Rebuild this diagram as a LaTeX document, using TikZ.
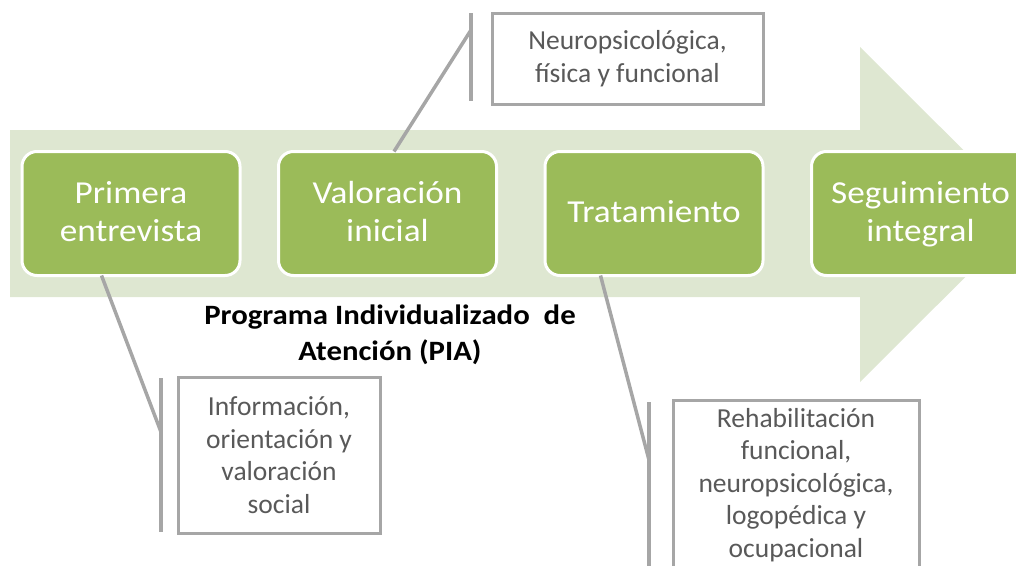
\documentclass[tikz,border=0pt]{standalone}
\usepackage{fontspec}
\setmainfont{Carlito}
\newfontfamily\wideFont[FakeStretch=1.1]{Carlito}
\usetikzlibrary{positioning}

\definecolor{bandGreen}{RGB}{222,231,209}
\definecolor{stepGreen}{RGB}{155,187,89}
\definecolor{lineGray}{RGB}{166,166,166}
\definecolor{textGray}{RGB}{89,89,89}
\newcommand{\stepStrut}{\rule[-10pt]{0pt}{38pt}}

\begin{document}
\begin{tikzpicture}
[x=1pt,y=-1pt,
  stepDecorate/.style={shape=rectangle,rounded corners=15pt,fill=stepGreen,draw=white,line width=3pt,
    minimum width=218pt,minimum height=124pt,align=center,text=white,
    font=\wideFont\fontsize{32}{38}\selectfont},%
  calloutDecorate/.style={shape=rectangle,draw=lineGray,line width=3pt,fill=white,align=center,
    text=textGray,inner sep=0pt,font=\fontsize{27.5}{32.5}\selectfont},%
  lineDecorate/.style={-,draw=lineGray,line width=3.5pt}]
\useasboundingbox (0,0) rectangle (1016,565);
\clip (0,0) rectangle (1016,565);
%% background arrow
\fill[bandGreen] (10,130) -- (860,130) -- (860,47) -- (1028,214.5) -- (860,382)
  -- (860,297) -- (10,297) -- cycle;
%% steps
\foreach \nodename/\x/\txt in {entrevista/131/{Primera\\entrevista},
    valoracion/387.5/{Valoración\\inicial}, tratamiento/654/{Tratamiento},
    seguimiento/920.5/{Seguimiento\\integral}} {
  \node (\nodename) at (\x,213.5) [stepDecorate] {\stepStrut\txt\stepStrut};
}
%% title
\node (pia) at (390,335) [align=center,font=\wideFont\fontsize{28}{36}\selectfont\bfseries]
  {Programa Individualizado\ \ de\\Atención (PIA)};
%% callouts
\node (info) at (279,455) [calloutDecorate,minimum width=202pt,minimum height=156pt] 
  {Información,\\orientación y\\valoración\\social};
\node (neuro) at (627.5,58.5) [calloutDecorate,minimum width=271pt,minimum height=91pt] 
  {Neuropsicológica,\\física y funcional};
\node (rehab) at (796,485) [calloutDecorate,minimum width=246pt,minimum height=170pt] 
  {Rehabilitación\\funcional,\\neuropsicológica,\\logopédica y\\ocupacional};
%% brackets
\coordinate (infoTop) at (161,378);
\coordinate (infoMid) at (161,432);
\coordinate (infoBot) at (161,532);
\coordinate (neuroTop) at (471,13);
\coordinate (neuroMid) at (471,30);
\coordinate (neuroBot) at (471,101);
\coordinate (rehabTop) at (649,402);
\coordinate (rehabMid) at (649,460);
\coordinate (rehabBot) at (649,580);
\path
\foreach \startnode/\endnode in {infoTop/infoBot, neuroTop/neuroBot, rehabTop/rehabBot} {
  (\startnode) edge[lineDecorate] (\endnode)
};
%% leaders
\draw[lineDecorate] (entrevista.south west) ++(81,-1.5) coordinate (entrevistaFoot) -- (infoMid);
\draw[lineDecorate] (valoracion.north west) ++(117,1.5) coordinate (valoracionFoot) -- (neuroMid);
\draw[lineDecorate] (tratamiento.south west) ++(57,-1.5) coordinate (tratamientoFoot) -- (rehabMid);
\end{tikzpicture}
\end{document}
